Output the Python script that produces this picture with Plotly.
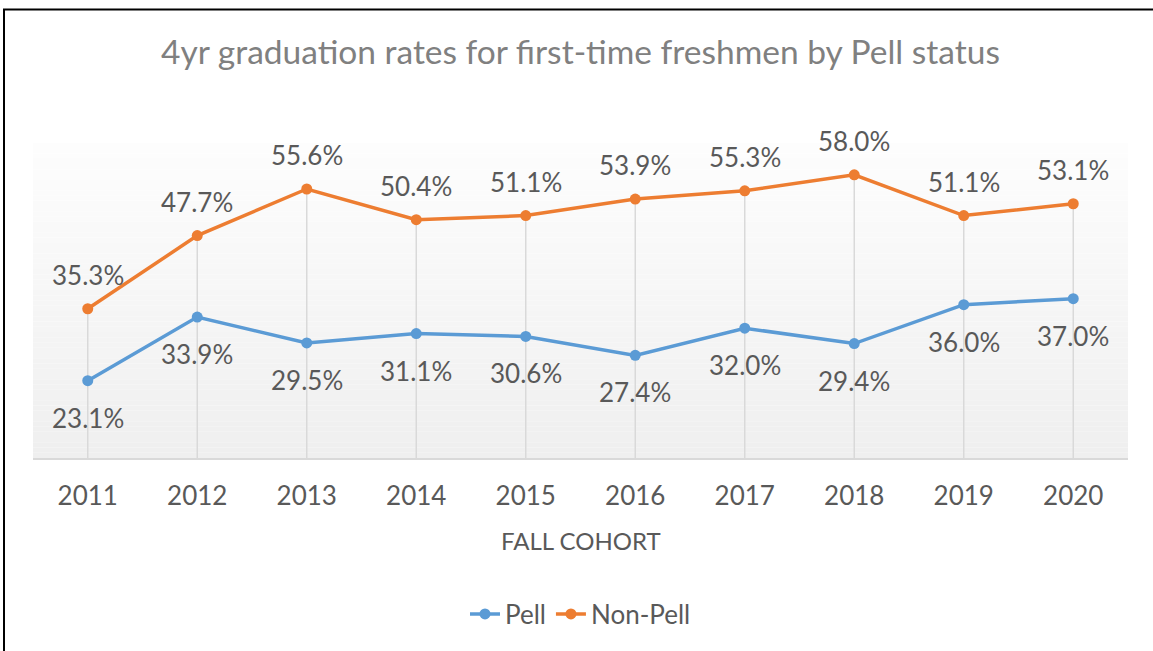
import plotly.graph_objects as go

years = ["2011", "2012", "2013", "2014", "2015", "2016", "2017", "2018", "2019", "2020"]
pell = [23.1, 33.9, 29.5, 31.1, 30.6, 27.4, 32.0, 29.4, 36.0, 37.0]
non_pell = [35.3, 47.7, 55.6, 50.4, 51.1, 53.9, 55.3, 58.0, 51.1, 53.1]

BLUE = "#5B9BD5"
ORANGE = "#ED7D31"
TXT = "#595959"
FONT = "Lato"
YMIN, YMAX = 10, 63.4

W, H = 1153, 651
ML, MR, MT, MB = 33, 25, 143, 193
PW, PH = W - ML - MR, H - MT - MB

def px_x(p):
    return (p - ML) / PW
def px_y(p):
    return (H - MB - p) / PH

fig = go.Figure()

# drop lines from highest point to the axis
dx, dy = [], []
for i, (a, b) in enumerate(zip(pell, non_pell)):
    dx += [i, i, None]
    dy += [max(a, b), YMIN, None]
fig.add_trace(go.Scatter(x=dx, y=dy, mode="lines", line=dict(color="#d9d9d9", width=1.5),
                         showlegend=False, hoverinfo="skip"))

idx = list(range(len(years)))
fig.add_trace(go.Scatter(x=idx, y=pell, name="Pell", mode="lines+markers",
                         line=dict(color=BLUE, width=3.5), marker=dict(size=11, color=BLUE)))
fig.add_trace(go.Scatter(x=idx, y=non_pell, name="Non-Pell", mode="lines+markers",
                         line=dict(color=ORANGE, width=3.5), marker=dict(size=11, color=ORANGE)))

ann = []
for i, v in enumerate(non_pell):
    ann.append(dict(x=i, y=v, xref="x", yref="y", text=f"{v:.1f}%", showarrow=False, yshift=34,
                    font=dict(family=FONT, size=26, color=TXT)))
for i, v in enumerate(pell):
    ann.append(dict(x=i, y=v, xref="x", yref="y", text=f"{v:.1f}%", showarrow=False, yshift=-37,
                    font=dict(family=FONT, size=26, color=TXT)))
ann.append(dict(x=0.5, y=px_y(540), xref="paper", yref="paper", text="FALL COHORT",
                showarrow=False, yanchor="middle",
                font=dict(family=FONT, size=24, color=TXT)))

# gradient background strips
shapes = []
N = 60
for i in range(N):
    t = i / (N - 1)
    c = int(round(253 - (253 - 239) * t))
    shapes.append(dict(type="rect", xref="paper", yref="paper", x0=0, x1=1,
                       y0=1 - (i + 1) / N, y1=1 - i / N, line=dict(width=0),
                       fillcolor=f"rgb({c},{c},{c})", layer="below"))
# outer border
shapes.append(dict(type="rect", xref="paper", yref="paper",
                   x0=px_x(4), x1=px_x(1170), y0=px_y(670), y1=px_y(9.5),
                   line=dict(color="black", width=2), fillcolor="rgba(0,0,0,0)"))

fig.update_layout(
    width=W, height=H,
    margin=dict(l=ML, r=MR, t=MT, b=MB),
    paper_bgcolor="white", plot_bgcolor="rgba(0,0,0,0)",
    title=dict(text="4yr graduation rates for first-time freshmen by Pell status",
               x=0.5, xref="paper", y=1 - 52 / H, yanchor="middle",
               font=dict(family=FONT, size=33.5, color="#808080")),
    xaxis=dict(tickmode="array", tickvals=idx, ticktext=years,
               showgrid=False, showline=True, linecolor="#d9d9d9", linewidth=2,
               ticks="", ticklabelstandoff=14, tickfont=dict(family=FONT, size=26, color=TXT),
               range=[-0.5, 9.5], zeroline=False),
    yaxis=dict(range=[YMIN, YMAX], visible=False, showgrid=False, zeroline=False),
    legend=dict(orientation="h", x=0.5, xanchor="center", y=px_y(614), yanchor="middle",
                font=dict(family=FONT, size=26, color=TXT), traceorder="normal"),
    annotations=ann, shapes=shapes,
    showlegend=True,
)
fig.write_html("out.html", config={"displayModeBar": False},
               post_script="document.body.style.margin='0px';")
